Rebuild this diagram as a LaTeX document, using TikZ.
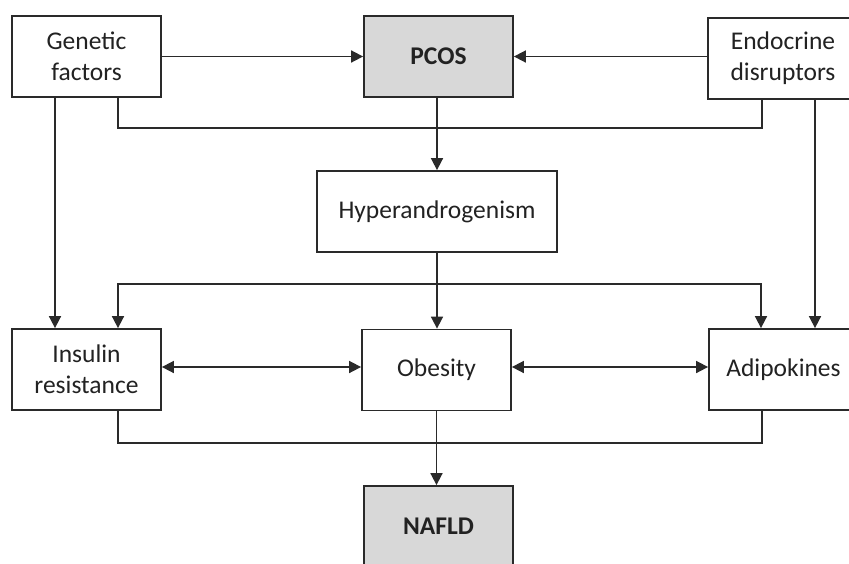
\documentclass[tikz,border=0pt]{standalone}
\usepackage{fontspec}
\setmainfont{Carlito}
\usetikzlibrary{arrows.meta}
\definecolor{ln}{HTML}{2A2A2A}
\definecolor{tx}{HTML}{222222}
\definecolor{gf}{HTML}{D8D8D8}
\begin{document}
\begin{tikzpicture}[x=1pt,y=-1pt,
  box/.style={draw=ln,line width=1.8pt,fill=white,minimum width=149pt,minimum height=81pt,
    align=center,text=tx,font=\fontsize{25.5}{31}\selectfont,inner sep=0pt},
  gbox/.style={box,fill=gf,font=\fontsize{25.5}{31}\selectfont\bfseries},
  conn/.style={draw=ln,line width=1.7pt},
  arr/.style={conn,-{Triangle[length=12pt,width=12pt]}},
  biarr/.style={conn,{Triangle[length=12pt,width=12pt]}-{Triangle[length=12pt,width=12pt]}}]
\useasboundingbox (0,0) rectangle (849,563);
\fill[white] (0,0) rectangle (849,563);
% nodes
\node[box] (genetic) at (86.5,56.5) {Genetic\\factors};
\node[gbox] (pcos) at (438.5,56.5) {PCOS};
\node[box,minimum width=150pt] (endo) at (783,58.5) {Endocrine\\disruptors};
\node[box,minimum width=240pt] (hyper) at (437,211.5) {Hyperandrogenism};
\node[box] (insulin) at (86.5,369.5) {Insulin\\resistance};
\node[box] (obesity) at (436.5,370) {Obesity};
\node[box] (adipo) at (783.5,369.5) {Adipokines};
\node[gbox] (nafld) at (438.5,526.5) {NAFLD};
% helper coordinates
\coordinate (gl) at (118,128);
\coordinate (gr) at (762,128);
\coordinate (gx) at (55,0);
\coordinate (ex) at (815,0);
\coordinate (ml) at (118,284);
\coordinate (mr) at (761,284);
\coordinate (bl) at (118,443);
\coordinate (br) at (762,443);
% connectors
\draw[arr] (genetic.east) -- (pcos.west);
\draw[arr] (endo.west |- pcos.east) -- (pcos.east);
\draw[conn] (genetic.south -| gl) -- (gl) -- (gr) -- (endo.south -| gr);
\draw[arr] (pcos.south -| hyper.north) -- (hyper.north);
\draw[arr] (genetic.south -| gx) -- (insulin.north -| gx);
\draw[arr] (endo.south -| ex) -- (adipo.north -| ex);
\draw[biarr] (insulin.north -| ml) -- (ml) -- (mr) -- (adipo.north -| mr);
\draw[arr] (hyper.south) -- (hyper.south |- obesity.north);
\draw[biarr] (insulin.east |- 0,367) -- (obesity.west |- 0,367);
\draw[biarr] (obesity.east |- 0,367) -- (adipo.west |- 0,367);
\draw[conn] (insulin.south -| bl) -- (bl) -- (br) -- (adipo.south -| br);
\draw[arr] (obesity.south) -- (obesity.south |- nafld.north);
\end{tikzpicture}
\end{document}
